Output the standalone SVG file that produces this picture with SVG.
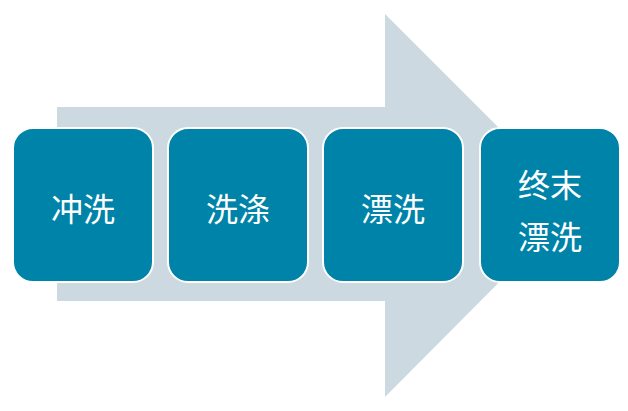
<svg xmlns="http://www.w3.org/2000/svg" width="628" height="411" viewBox="0 0 628 411">
<style>
.b{fill:#0083A8;stroke:#fff;stroke-width:2}
.t{fill:#fff;font-family:"Noto Sans CJK SC",sans-serif;font-size:32px;text-anchor:middle;dominant-baseline:central}
</style>
<rect width="628" height="411" fill="#fff"/>
<g id="connectors">
<polygon points="57,107 385,107 385,14 576,205 385,397 385,301 57,301" fill="#CCD9E1"/>
</g>
<g id="n1"><rect class="b" x="13" y="128" width="140" height="154" rx="20"/><text class="t" x="83" y="207">冲洗</text></g>
<g id="n2"><rect class="b" x="168" y="128" width="140" height="154" rx="20"/><text class="t" x="238" y="207">洗涤</text></g>
<g id="n3"><rect class="b" x="323" y="128" width="140" height="154" rx="20"/><text class="t" x="393" y="207">漂洗</text></g>
<g id="n4"><rect class="b" x="480" y="128" width="140" height="154" rx="20"/><text class="t" x="550" y="183">终末</text><text class="t" x="550" y="235">漂洗</text></g>
</svg>
